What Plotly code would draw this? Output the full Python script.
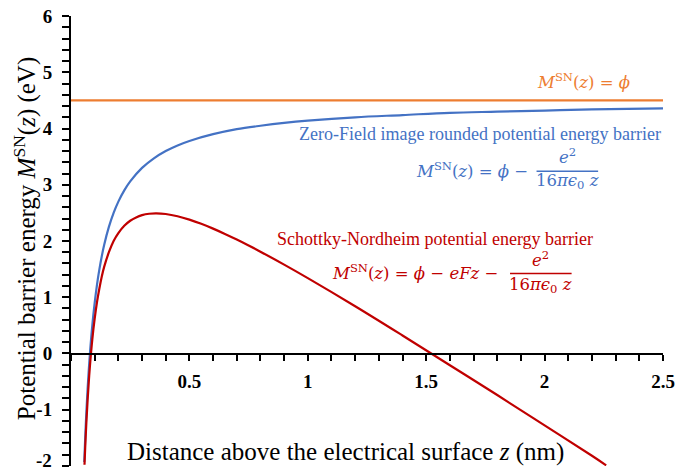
import plotly.graph_objects as go

# ---- data ----
z_blue = [0.056, 0.06, 0.065, 0.07, 0.075, 0.08, 0.09, 0.10, 0.11, 0.12, 0.13, 0.14, 0.16, 0.18, 0.20,
          0.225, 0.25, 0.30, 0.35, 0.40, 0.45, 0.50, 0.60, 0.70, 0.80, 0.90, 1.0, 1.2, 1.4, 1.6, 1.8,
          2.0, 2.2, 2.5]
m_blue = [-1.93, -1.50, -1.04, -0.64, -0.30, 0.00, 0.50, 0.90, 1.23, 1.50, 1.73, 1.93, 2.25, 2.50, 2.70,
          2.90, 3.06, 3.30, 3.47, 3.60, 3.70, 3.78, 3.90, 3.99, 4.05, 4.10, 4.14, 4.20, 4.24, 4.28, 4.30,
          4.32, 4.34, 4.36]

z_red = [0.057, 0.06, 0.065, 0.07, 0.075, 0.08, 0.09, 0.10, 0.11, 0.12, 0.13, 0.14, 0.16, 0.18, 0.20,
         0.225, 0.25, 0.275, 0.30, 0.33, 0.36, 0.40, 0.45, 0.50, 0.55, 0.60, 0.65, 0.70, 0.75, 0.80,
         0.90, 1.0, 1.2, 1.4, 1.6, 1.8, 2.0, 2.2, 2.26]
m_red = [-1.98, -1.67, -1.22, -0.84, -0.51, -0.22, 0.25, 0.62, 0.92, 1.16, 1.37, 1.54, 1.80, 2.00, 2.14,
         2.27, 2.36, 2.42, 2.46, 2.485, 2.492, 2.48, 2.44, 2.38, 2.306, 2.22, 2.126, 2.026, 1.92, 1.81,
         1.58, 1.34, 0.84, 0.32, -0.21, -0.74, -1.28, -1.82, -1.99]

z_phi = [0.0, 2.5]
m_phi = [4.5, 4.5]

x_tickvals = [0.5, 1, 1.5, 2, 2.5]
x_ticktext = ["0.5", "1", "1.5", "2", "2.5"]
y_tickvals = [-2, -1, 0, 1, 2, 3, 4, 5, 6]
y_ticktext = ["-2", "-1", "0", "1", "2", "3", "4", "5", "6"]

ORANGE = "#ED7D31"
BLUE = "#4472C4"
RED = "#C00000"
SERIF = "Liberation Serif, Times New Roman, serif"
MATH = "DejaVu Serif, serif"
MS = 16.5

fig = go.Figure()
fig.add_trace(go.Scatter(x=z_phi, y=m_phi, mode="lines", line=dict(color=ORANGE, width=2.2)))
fig.add_trace(go.Scatter(x=z_blue, y=m_blue, mode="lines", line=dict(color=BLUE, width=2.2, shape="spline", smoothing=1)))
fig.add_trace(go.Scatter(x=z_red, y=m_red, mode="lines", line=dict(color=RED, width=2.2, shape="spline", smoothing=1)))

tick_font = dict(family=SERIF, size=19, color="black", weight="bold")
tick_common = dict(tickwidth=1.5, tickcolor="black", ticks="outside",
                   ticklabeloverflow="allow", automargin=False, tickfont=tick_font)

# the lowest y label sits slightly above its tick (as in the reference), drawn separately
y_ticktext_axis = ["" if t == y_ticktext[0] else t for t in y_ticktext]

fig.update_layout(
    template="none",
    width=676, height=475,
    margin=dict(l=71, r=13, t=16, b=9, autoexpand=False),
    plot_bgcolor="white", paper_bgcolor="white",
    showlegend=False,
    xaxis=dict(range=[0, 2.5], anchor="free", position=0.25,
               showline=True, linecolor="black", linewidth=2,
               showgrid=False, zeroline=False,
               tickvals=x_tickvals, ticktext=x_ticktext, ticklen=6, ticklabelstandoff=5,
               minor=dict(dtick=0.1, tick0=0, ticks="outside", ticklen=6, tickwidth=1.5, tickcolor="black",
                          showgrid=False),
               fixedrange=True, **tick_common),
    yaxis=dict(range=[-2.002, 6.002], domain=[0, 1],
               showline=True, linecolor="black", linewidth=2,
               showgrid=False, zeroline=False,
               tickvals=y_tickvals, ticktext=y_ticktext_axis, ticklen=7, ticklabelstandoff=6,
               minor=dict(dtick=0.2, tick0=0, ticks="outside", ticklen=7, tickwidth=1.5, tickcolor="black",
                          showgrid=False),
               fixedrange=True, **tick_common),
)

def ann(x, y, text, color, size, family=SERIF, xanchor="center", xref="x", yref="y", angle=0, weight="normal"):
    fig.add_annotation(x=x, y=y, xref=xref, yref=yref, text=text, showarrow=False,
                       xanchor=xanchor, yanchor="middle", textangle=angle,
                       font=dict(family=family, size=size, color=color, weight=weight))

ann(-0.028, -1.90, y_ticktext[0], "black", 19, xanchor="right", xref="paper", weight="bold")

# axis titles
ann(-0.0777, 0.504, "Potential barrier energy <i>M</i><sup>SN</sup>(<i>z</i>) (eV)", "black", 25,
    xref="paper", yref="paper", angle=-90)
ann(1.161, -1.76, "Distance above the electrical surface <i>z</i> (nm)", "black", 25)

# orange label
ann(2.164, 4.84, "<i>M</i><sup>SN</sup>(<i>z</i>) = <i>ϕ</i>", ORANGE, MS, family=MATH)

# blue labels
ann(2.5, 3.91, "Zero-Field image rounded potential energy barrier", BLUE, 18, xanchor="right")
ann(1.938, 3.27, "<i>M</i><sup>SN</sup>(<i>z</i>) = <i>ϕ</i> −", BLUE, MS, family=MATH, xanchor="right")
ann(2.095, 3.52, "<i>e</i><sup>2</sup>", BLUE, MS, family=MATH)
ann(2.095, 3.05, "16<i>πϵ</i><sub>0</sub> <i>z</i>", BLUE, MS, family=MATH)
fig.add_shape(type="line", x0=1.966, x1=2.226, y0=3.24, y1=3.24, xref="x", yref="y",
              line=dict(color=BLUE, width=1.6))

# red labels
ann(2.213, 2.03, "Schottky-Nordheim potential energy barrier", RED, 18, xanchor="right")
ann(1.812, 1.45, "<i>M</i><sup>SN</sup>(<i>z</i>) = <i>ϕ</i> − <i>eFz</i> −", RED, MS, family=MATH, xanchor="right")
ann(1.984, 1.68, "<i>e</i><sup>2</sup>", RED, MS, family=MATH)
ann(1.984, 1.21, "16<i>πϵ</i><sub>0</sub> <i>z</i>", RED, MS, family=MATH)
fig.add_shape(type="line", x0=1.854, x1=2.114, y0=1.422, y1=1.422, xref="x", yref="y",
              line=dict(color=RED, width=1.6))

fig.write_html("out.html")
